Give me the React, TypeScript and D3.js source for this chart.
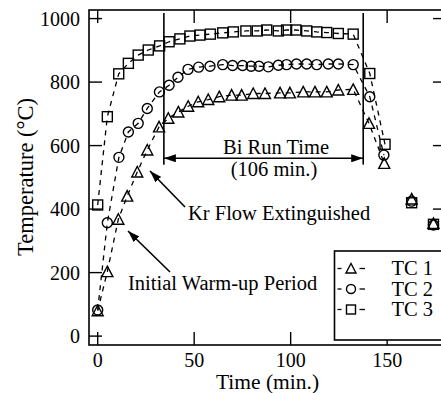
import { useEffect, useRef } from "react";
import * as d3 from "d3";

// thermocouple readings: [time (min), temperature (C)]
const tc1 = [
  [0, 80], [5, 203], [10.7, 368], [15.3, 441], [20.5, 517], [25.7, 586],
  [31.8, 659], [36.6, 686], [41.8, 706], [46.9, 724], [52.1, 738], [57.3, 745],
  [63, 754], [69.4, 759], [74.6, 759], [80.6, 764], [86.7, 764], [94.5, 766],
  [99.6, 766], [106.5, 769], [112.6, 769], [118.7, 769], [124.7, 775], [132.4, 777],
  [140.6, 670], [148.5, 544], [162.7, 432], [174, 355],
];
const tc2 = [
  [0, 82], [5, 357], [11, 563], [15.9, 643], [21, 670], [25.7, 717],
  [32, 769], [37, 790], [41.6, 815], [46.8, 840], [52.3, 847], [58.2, 850],
  [64.8, 855], [69.9, 852], [75.1, 852], [79.5, 850], [83.6, 850], [88.4, 848],
  [93.6, 853], [97.9, 855], [103, 857], [108.3, 857], [113.5, 855], [119.5, 857],
  [124.7, 857], [132.4, 855], [141, 754], [148.3, 570], [162.7, 425], [174, 350],
];
const tc3 = [
  [0, 413], [5, 691], [10.9, 826], [15.9, 859], [21, 885], [26.2, 901],
  [32.1, 914], [37, 927], [42.6, 936], [47.8, 945], [53, 948], [58.4, 951],
  [64.8, 955], [70.3, 958], [76.8, 961], [82.7, 961], [87.6, 964], [93.6, 961],
  [97.9, 964], [102.7, 964], [108.3, 961], [113.5, 958], [118.7, 956], [124.7, 953],
  [132.4, 951], [141, 827], [148.9, 604], [162.7, 420], [174, 352],
];

const seriesNames = ["TC 1", "TC 2", "TC 3"];
const markerTypes = ["triangle", "circle", "square"];
const xTicks = [0, 50, 100, 150];
const yTicks = [0, 200, 400, 600, 800, 1000];

// annotation values
const runStart = 34.3;
const runEnd = 137.6;
const runArrowTemp = 560;
const runLineBottom = 540;
const lineCutoff = 150; // dashed line stops before the last readings

const FONT = "'Times New Roman', 'Liberation Serif', Tinos, 'DejaVu Serif'";

const drawMarker = (g, type, x, y, size) => {
  const s = size / 2;
  if (type === "circle") {
    g.append("circle").attr("cx", x).attr("cy", y).attr("r", s);
  } else if (type === "square") {
    g.append("rect").attr("x", x - s).attr("y", y - s).attr("width", size).attr("height", size);
  } else {
    g.append("path").attr(
      "d",
      `M${x},${y - s - 0.5}L${x + s + 0.5},${y + s}L${x - s - 0.5},${y + s}Z`
    );
  }
};

const App = () => {
  const svgRef = useRef();
  const width = 441;
  const height = 393;
  const margin = { top: 10, left: 89, right: 446, bottom: 345 };

  useEffect(() => {
    const svg = d3.select(svgRef.current);
    svg.selectAll("*").remove();

    const x = d3.scaleLinear().domain([-4.5, 180.5]).range([margin.left, margin.right]);
    const y = d3.scaleLinear().domain([-28, 1027]).range([margin.bottom, margin.top]);

    const defs = svg.append("defs");
    defs
      .append("marker")
      .attr("id", "head")
      .attr("viewBox", "0 0 12 8")
      .attr("refX", 12)
      .attr("refY", 4)
      .attr("markerWidth", 12)
      .attr("markerHeight", 8)
      .attr("markerUnits", "userSpaceOnUse")
      .attr("orient", "auto-start-reverse")
      .append("path")
      .attr("d", "M0,0L12,4L0,8Z")
      .attr("fill", "#000");

    // frame
    svg
      .append("rect")
      .attr("x", margin.left)
      .attr("y", margin.top)
      .attr("width", margin.right - margin.left)
      .attr("height", margin.bottom - margin.top)
      .attr("fill", "none")
      .attr("stroke", "#000")
      .attr("stroke-width", 1.6);

    const tickLen = 13;
    const ticks = svg.append("g").attr("stroke", "#000").attr("stroke-width", 1.4);
    xTicks.forEach((t) => {
      ticks.append("line").attr("x1", x(t)).attr("x2", x(t)).attr("y1", margin.bottom).attr("y2", margin.bottom - tickLen);
      ticks.append("line").attr("x1", x(t)).attr("x2", x(t)).attr("y1", margin.top).attr("y2", margin.top + tickLen);
    });
    yTicks.forEach((v) => {
      ticks.append("line").attr("x1", margin.left).attr("x2", margin.left + tickLen).attr("y1", y(v)).attr("y2", y(v));
      ticks.append("line").attr("x1", margin.right).attr("x2", margin.right - tickLen).attr("y1", y(v)).attr("y2", y(v));
    });

    const texts = svg.append("g").style("font-family", FONT).attr("fill", "#000");

    // tick labels
    texts
      .append("g")
      .selectAll("text")
      .data(xTicks)
      .enter()
      .append("text")
      .attr("x", (d) => x(d))
      .attr("y", 367)
      .attr("text-anchor", "middle")
      .attr("font-size", 20)
      .text((d) => d);

    texts
      .append("g")
      .selectAll("text")
      .data(yTicks)
      .enter()
      .append("text")
      .attr("x", 80)
      .attr("y", (d) => y(d))
      .attr("dy", "0.35em")
      .attr("text-anchor", "end")
      .attr("font-size", 20)
      .text((d) => d);

    // axis labels
    texts
      .append("text")
      .attr("x", (margin.left + margin.right) / 2)
      .attr("y", 389)
      .attr("text-anchor", "middle")
      .attr("font-size", 21.5)
      .text("Time (min.)");

    texts
      .append("text")
      .attr("transform", `translate(33,177) rotate(-90)`)
      .attr("text-anchor", "middle")
      .attr("font-size", 22.5)
      .text("Temperature (\u00B0C)");

    // series
    const allSeries = [tc1, tc2, tc3];
    const line = d3
      .line()
      .x((d) => x(d[0]))
      .y((d) => y(d[1]));

    allSeries.forEach((series, i) => {
      svg
        .append("path")
        .attr("d", line(series.filter((d) => d[0] < lineCutoff)))
        .attr("fill", "none")
        .attr("stroke", "#000")
        .attr("stroke-width", 1.3)
        .attr("stroke-dasharray", "5,5");

      const mg = svg
        .append("g")
        .attr("fill", "none")
        .attr("stroke", "#000")
        .attr("stroke-width", 1.4);
      series.forEach((d) => drawMarker(mg, markerTypes[i], x(d[0]), y(d[1]), 10));
    });

    // run time annotation
    const ann = svg.append("g").attr("stroke", "#000").attr("stroke-width", 1.6);
    [runStart, runEnd].forEach((t) => {
      ann
        .append("line")
        .attr("x1", x(t))
        .attr("x2", x(t))
        .attr("y1", margin.top + 3)
        .attr("y2", y(runLineBottom));
    });
    ann
      .append("line")
      .attr("x1", x(runStart))
      .attr("x2", x(runEnd))
      .attr("y1", y(runArrowTemp))
      .attr("y2", y(runArrowTemp))
      .attr("marker-start", "url(#head)")
      .attr("marker-end", "url(#head)");

    const textAt = (tx, ty, label, anchor = "start") =>
      texts
        .append("text")
        .attr("x", tx)
        .attr("y", ty)
        .attr("text-anchor", anchor)
        .attr("font-size", 20.5)
        .text(label);

    textAt(276, 154, "Bi Run Time", "middle");
    textAt(274, 176, "(106 min.)", "middle");
    textAt(188, 220, "Kr Flow Extinguished");
    textAt(128, 290, "Initial Warm-up Period");

    // pointer arrows
    ann
      .append("line")
      .attr("x1", 185)
      .attr("y1", 207)
      .attr("x2", 150)
      .attr("y2", 171)
      .attr("marker-end", "url(#head)");
    ann
      .append("line")
      .attr("x1", 170)
      .attr("y1", 272)
      .attr("x2", 128)
      .attr("y2", 231)
      .attr("marker-end", "url(#head)");

    // legend
    const legend = svg.append("g");
    legend
      .append("rect")
      .attr("x", 334.5)
      .attr("y", 251)
      .attr("width", 120)
      .attr("height", 89)
      .attr("fill", "#fff")
      .attr("stroke", "#000")
      .attr("stroke-width", 1.6);

    seriesNames.forEach((name, i) => {
      const cy = 268.5 + i * 20.5;
      [[337.5, 341.5], [359.5, 365]].forEach(([a, b]) =>
        legend
          .append("line")
          .attr("x1", a)
          .attr("x2", b)
          .attr("y1", cy)
          .attr("y2", cy)
          .attr("stroke", "#000")
          .attr("stroke-width", 1.3)
      );
      const mg = legend.append("g").attr("fill", "none").attr("stroke", "#000").attr("stroke-width", 1.4);
      drawMarker(mg, markerTypes[i], 351, cy, 9);
      legend
        .append("text")
        .attr("x", 391.5)
        .attr("y", cy + 6.5)
        .style("font-family", FONT)
        .attr("font-size", 20.5)
        .text(name);
    });
  }, []);

  return (
    <svg
      ref={svgRef}
      width={width}
      height={height}
      style={{ position: "fixed", left: 0, top: 0, background: "#fff" }}
    ></svg>
  );
};

export default App;
